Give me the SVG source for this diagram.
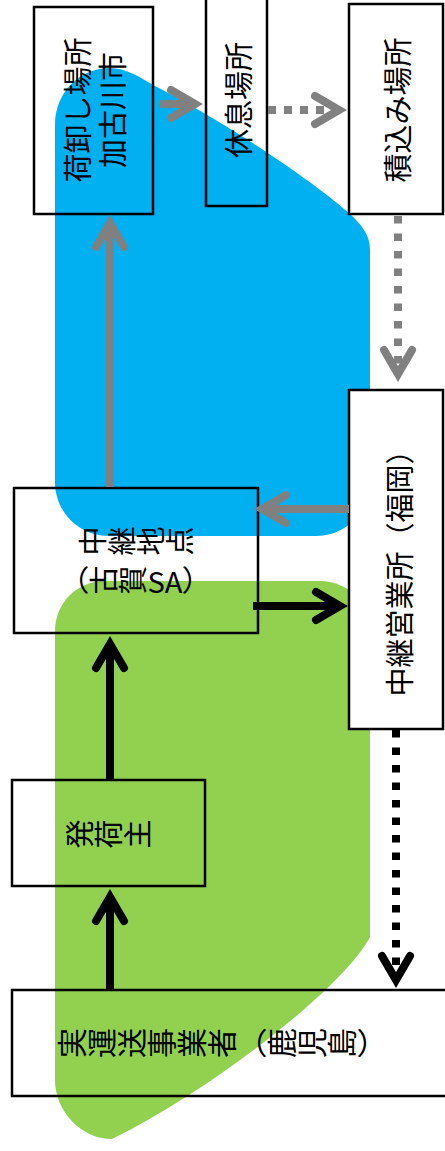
<svg xmlns="http://www.w3.org/2000/svg" width="445" height="1151" viewBox="0 0 445 1151">
<style>
.box{fill:none;stroke:#000;stroke-width:2.5}
.boxw{fill:#fff;stroke:#000;stroke-width:2.5}
.t{font-family:"Noto Sans CJK JP","Noto Sans CJK SC",sans-serif;font-size:29px;fill:#000;text-anchor:middle;dominant-baseline:central}
.v{writing-mode:vertical-rl}
.g{fill:none;stroke:#808080;stroke-width:8}
.k{fill:none;stroke:#000;stroke-width:8}
.dot{stroke-dasharray:7.5 10}
.dot2{stroke-dasharray:8 8}
</style>
<defs>
<marker id="ag" markerUnits="userSpaceOnUse" orient="auto" refX="0" refY="0" markerWidth="60" markerHeight="60" overflow="visible">
<path d="M-24,-14 L0,0 L-24,14" fill="none" stroke="#808080" stroke-width="8" stroke-linecap="round" stroke-linejoin="miter" stroke-dasharray="none"/>
</marker>
<marker id="ak" markerUnits="userSpaceOnUse" orient="auto" refX="0" refY="0" markerWidth="60" markerHeight="60" overflow="visible">
<path d="M-24,-14 L0,0 L-24,14" fill="none" stroke="#000" stroke-width="8" stroke-linecap="round" stroke-linejoin="miter" stroke-dasharray="none"/>
</marker>
</defs>
<g id="areas">
<path id="blue" fill="#00B0F0" d="M55,125 C55,92 80,68 110,68 C125,68 140,77 153,85 C200,108 300,170 349,213 C362,225 370,235 370,250 L370,482 C370,512 346,536 316,536 L109,536 C79,536 55,512 55,482 Z"/>
<path id="green" fill="#92D050" d="M105,581 L320,581 C348,581 370,603 370,631 L370,937 C345,985 220,1085 112,1139 C80,1139 55,1110 55,1080 L55,631 C55,603 77,581 105,581 Z"/>
</g>
<g id="n1"><rect class="box" x="34" y="7" width="119" height="207"/>
<text class="t" transform="translate(76,110) rotate(-90)">荷卸し場所</text>
<text class="t" transform="translate(111,110) rotate(-90)">加古川市</text></g>
<g id="n2"><rect class="box" x="206" y="-5" width="61" height="211"/>
<text class="t" transform="translate(237,100) rotate(-90)">休息場所</text></g>
<g id="n3"><rect class="box" x="349" y="4" width="94" height="210"/>
<text class="t" transform="translate(396,110) rotate(-90)">積込み場所</text></g>
<g id="n4"><rect class="box" x="14" y="488" width="244" height="145"/>
<text class="t v" transform="translate(136,541) rotate(-90)">中継地点</text>
<text class="t v" transform="translate(136,580) rotate(-90)">（古賀SA）</text></g>
<g id="n5"><rect class="boxw" x="349" y="390" width="94" height="339"/>
<text class="t" transform="translate(398,566) rotate(-90)">中継営業所（福岡）</text></g>
<g id="n6"><rect class="box" x="12" y="780" width="193" height="106"/>
<text class="t v" transform="translate(109,834) rotate(-90)">発荷主</text></g>
<g id="n7"><rect class="box" x="12" y="990" width="440" height="106"/>
<text class="t v" style="font-size:30px" transform="translate(222,1043) rotate(-90)">実運送事業者（鹿児島）</text></g>
<g id="connectors">
<path class="g" d="M110,487 L110,223" marker-end="url(#ag)"/>
<path class="g" d="M159,104 L195,104" marker-end="url(#ag)"/>
<path class="g dot2" d="M268,110 L339,110" marker-end="url(#ag)"/>
<path class="g dot" d="M398,216 L398,374" marker-end="url(#ag)"/>
<path class="g" d="M349,509 L262,509" marker-end="url(#ag)"/>
<path class="k" d="M253,606 L340,606" marker-end="url(#ak)"/>
<path class="k" d="M110,780 L110,644" marker-end="url(#ak)"/>
<path class="k" d="M110,990 L110,897" marker-end="url(#ak)"/>
<path class="k dot" d="M396,730 L396,980" marker-end="url(#ak)"/>
</g>
</svg>
